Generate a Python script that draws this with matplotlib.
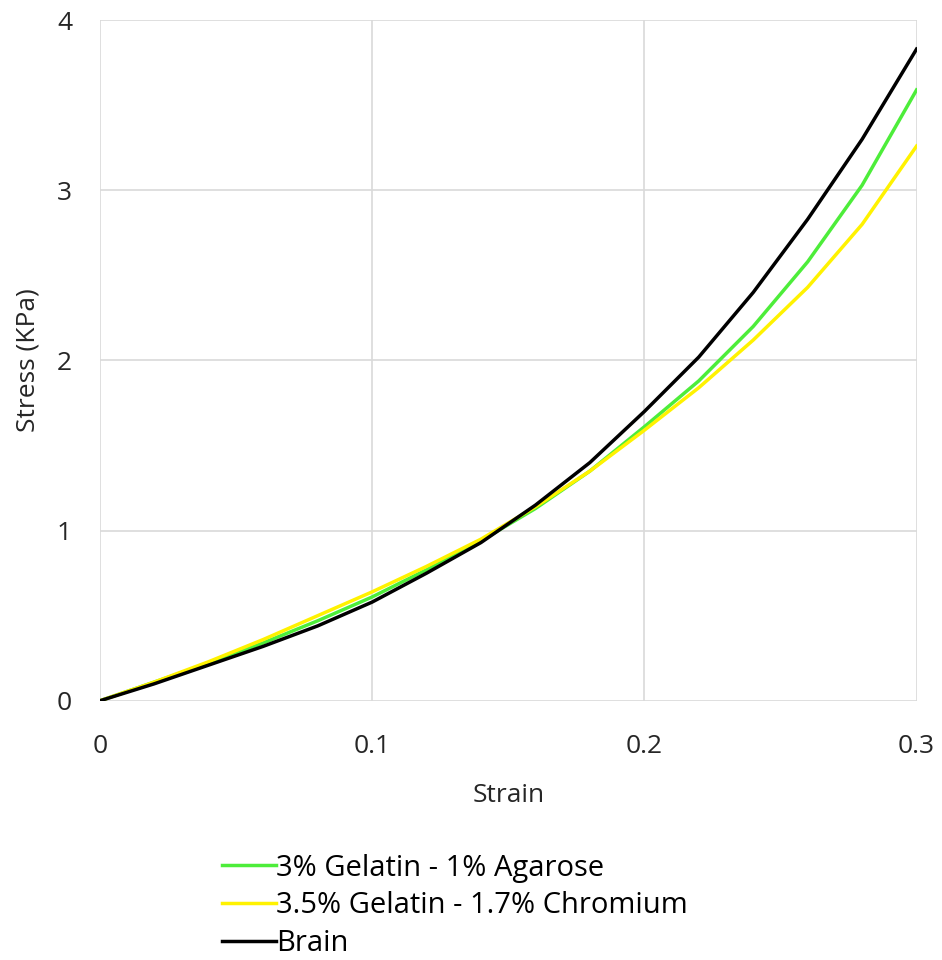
import matplotlib.pyplot as plt

# strain steps and stress readings (KPa)
strain = [0, 0.02, 0.04, 0.06, 0.08, 0.10, 0.12, 0.14, 0.16, 0.18,
          0.20, 0.22, 0.24, 0.26, 0.28, 0.30]
gel_agarose = [0, 0.11, 0.22, 0.34, 0.47, 0.61, 0.77, 0.94, 1.13, 1.35,
               1.61, 1.88, 2.20, 2.58, 3.03, 3.59]
gel_chromium = [0, 0.11, 0.23, 0.36, 0.50, 0.64, 0.79, 0.95, 1.14, 1.35,
                1.59, 1.84, 2.12, 2.43, 2.80, 3.26]
brain = [0, 0.10, 0.21, 0.32, 0.44, 0.58, 0.75, 0.93, 1.15, 1.40,
         1.70, 2.02, 2.40, 2.83, 3.30, 3.83]

x_ticks = [0, 0.1, 0.2, 0.3]
x_tick_labels = ["0", "0.1", "0.2", "0.3"]
y_ticks = [0, 1, 2, 3, 4]

plt.rcParams['font.family'] = ['Open Sans', 'DejaVu Sans']

fig = plt.figure(figsize=(9.42, 9.6), dpi=100)
ax = fig.add_axes([0.106, 0.270, 0.867, 0.709])

ax.plot(strain, gel_agarose, color='#4ded3a', lw=2.5, label='3% Gelatin - 1% Agarose',
        solid_joinstyle='round')
ax.plot(strain, gel_chromium, color='#fff200', lw=2.5, label='3.5% Gelatin - 1.7% Chromium',
        solid_joinstyle='round')
ax.plot(strain, brain, color='black', lw=2.5, label='Brain', solid_joinstyle='round')

ax.set_xlim(0, 0.3)
ax.set_ylim(0, 4)
ax.set_xticks(x_ticks)
ax.set_xticklabels(x_tick_labels)
ax.set_yticks(y_ticks)
ax.grid(True, color='#d9d9d9', lw=1.2)
ax.set_axisbelow(True)
for s in ax.spines.values():
    s.set_visible(False)
ax.tick_params(length=0, labelsize=19, colors='#262626')
ax.tick_params(axis='x', pad=24)
ax.tick_params(axis='y', pad=20)

ax.set_xlabel('Strain', fontsize=19, color='#262626', labelpad=17)
ax.set_ylabel('Stress (KPa)', fontsize=19, color='#262626', labelpad=12)

fig.legend(*ax.get_legend_handles_labels(), loc='center left',
           bbox_to_anchor=(0.2357, 0.0565), frameon=False,
           fontsize=21, handlelength=1.85, handletextpad=0.0, labelspacing=0.3,
           borderpad=0, borderaxespad=0)

fig.savefig('out.png', dpi=100)
